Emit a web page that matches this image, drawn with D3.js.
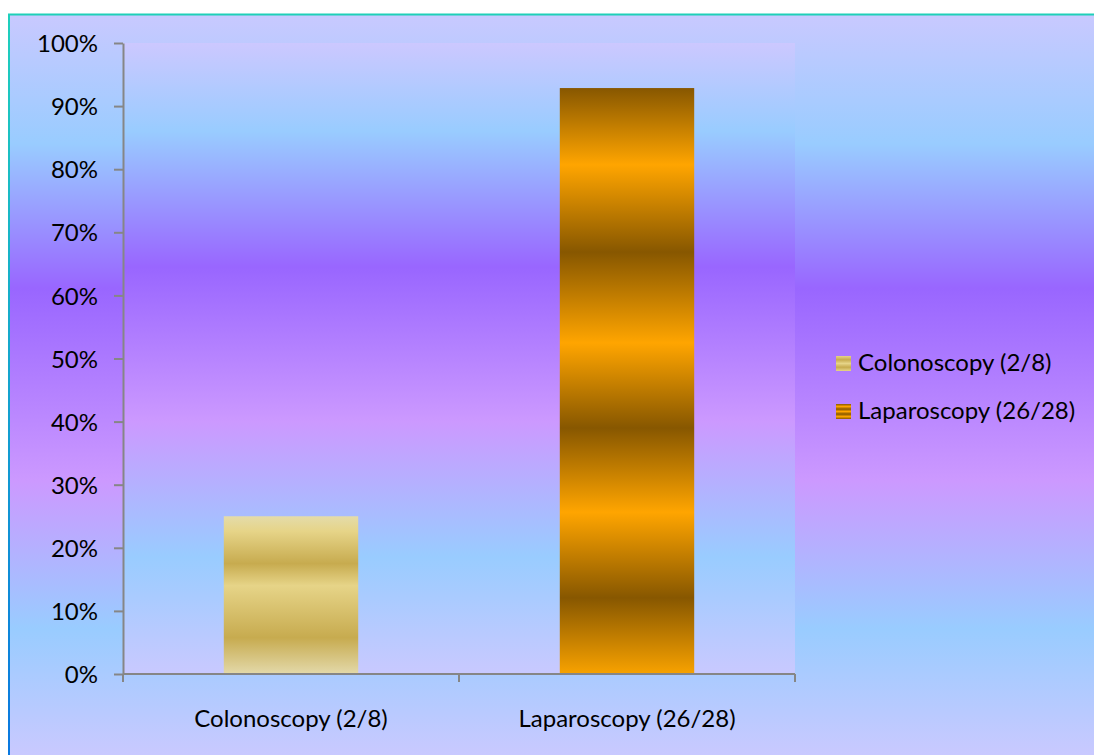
<!DOCTYPE html>
<html>
<head>
<meta charset="utf-8">
<script src="https://cdn.jsdelivr.net/npm/d3@7"></script>
<style>
  body { margin: 0; background: #ffffff; }
  svg { display: block; }
  .axis text { font-family: Lato, "Open Sans", sans-serif; font-size: 24px; fill: #000; }
  .legend text { font-family: Lato, "Open Sans", sans-serif; font-size: 24px; fill: #000; }
</style>
</head>
<body>
<div id="chart"></div>
<script>
// data
var categories = ["Colonoscopy (2/8)", "Laparoscopy (26/28)"];
var values = [0.25, 0.9286];
var yTickValues = [0, 0.1, 0.2, 0.3, 0.4, 0.5, 0.6, 0.7, 0.8, 0.9, 1.0];

var width = 1094, height = 755;
var margin = { top: 43, right: 299, bottom: 81, left: 123 };
var plotW = width - margin.left - margin.right;
var plotH = height - margin.top - margin.bottom;

var svg = d3.select("#chart").append("svg")
  .attr("width", width)
  .attr("height", height);

var defs = svg.append("defs");

function addGradient(id, stops, units) {
  var g = defs.append("linearGradient")
    .attr("id", id)
    .attr("x1", 0).attr("y1", 0).attr("x2", 0).attr("y2", 1);
  if (units) g.attr("gradientUnits", units);
  stops.forEach(function(s) {
    g.append("stop").attr("offset", s[0]).attr("stop-color", s[1]);
  });
  return g;
}

// background bands
addGradient("bgOuter", [
  [0, "#c9c9ff"], [0.175, "#99ccff"], [0.37, "#9966ff"],
  [0.63, "#cc99ff"], [0.83, "#99ccff"], [1, "#c9c9ff"]
]);
addGradient("bgPlot", [
  [0, "#ccc8ff"], [0.14, "#99ccff"], [0.355, "#9966ff"],
  [0.6, "#cc99ff"], [0.815, "#99ccff"], [1, "#c9c9ff"]
]);
addGradient("frameLeft", [[0, "#1fd0bd"], [1, "#0a78e0"]]);

// bar fills
var barFills = [
  [[0, "#e4dcaa"], [0.095, "#e6d488"], [0.3, "#c7ab4f"], [0.44, "#e6d488"],
   [0.77, "#c7ab4f"], [1, "#e3d9aa"]],
  [[0, "#875700"], [0.131, "#ffa500"], [0.28, "#875700"], [0.435, "#ffa500"],
   [0.58, "#875700"], [0.724, "#ffa500"], [0.87, "#875700"], [1, "#f8a200"]]
];
barFills.forEach(function(st, i) { addGradient("bar" + i, st); });

// legend swatches, stripes
var swatchFills = [
  [[0, "#e6d488"], [0.25, "#c7ab4f"], [0.5, "#e6d488"], [0.75, "#c7ab4f"], [1, "#e6d488"]],
  [[0, "#875700"], [0.17, "#ffa500"], [0.34, "#875700"], [0.5, "#ffa500"],
   [0.67, "#875700"], [0.84, "#ffa500"], [1, "#875700"]]
];
swatchFills.forEach(function(st, i) { addGradient("sw" + i, st); });

// chart area background + frame
svg.append("rect")
  .attr("x", 9).attr("y", 14)
  .attr("width", width - 9).attr("height", height - 14)
  .attr("fill", "url(#bgOuter)");
svg.append("line")
  .attr("x1", 8).attr("x2", width).attr("y1", 14.5).attr("y2", 14.5)
  .attr("stroke", "#1fd0b8").attr("stroke-width", 2);
svg.append("rect")
  .attr("x", 8).attr("y", 14)
  .attr("width", 2).attr("height", height - 14)
  .attr("fill", "url(#frameLeft)");

var g = svg.append("g")
  .attr("transform", "translate(" + margin.left + "," + margin.top + ")");

g.append("rect")
  .attr("width", plotW).attr("height", plotH)
  .attr("fill", "url(#bgPlot)");

var x = d3.scaleBand()
  .domain(categories)
  .range([0, plotW])
  .paddingInner(0.6)
  .paddingOuter(0.3);

var y = d3.scaleLinear()
  .domain([0, 1])
  .range([plotH, 0]);

g.selectAll("rect.bar")
  .data(values)
  .enter()
  .append("rect")
  .attr("class", "bar")
  .attr("x", function(d, i) { return x(categories[i]); })
  .attr("width", x.bandwidth())
  .attr("y", function(d) { return y(d); })
  .attr("height", function(d) { return plotH - y(d); })
  .attr("fill", function(d, i) { return "url(#bar" + i + ")"; });

var yAxis = d3.axisLeft(y)
  .tickValues(yTickValues)
  .tickFormat(d3.format(".0%"))
  .tickSize(9)
  .tickPadding(16)
  .tickSizeOuter(0);

var yG = g.append("g").attr("class", "axis").call(yAxis);
yG.select(".domain").attr("stroke", "#868686").attr("stroke-width", 2);
yG.selectAll(".tick line").attr("stroke", "#868686").attr("stroke-width", 2);
yG.selectAll(".tick text").attr("dy", "0.36em");

// x axis: ticks sit on category boundaries
var xG = g.append("g").attr("class", "axis")
  .attr("transform", "translate(0," + plotH + ")");
xG.append("line")
  .attr("x1", 0).attr("x2", plotW)
  .attr("stroke", "#868686").attr("stroke-width", 2);
var bounds = [0].concat(categories.map(function(c) { return x(c) - x.step() * x.paddingOuter() + x.step(); }));
xG.selectAll("line.tk")
  .data(bounds)
  .enter()
  .append("line")
  .attr("class", "tk")
  .attr("x1", function(d) { return d; }).attr("x2", function(d) { return d; })
  .attr("y1", 0).attr("y2", 8)
  .attr("stroke", "#868686").attr("stroke-width", 2);
xG.selectAll("text")
  .data(categories)
  .enter()
  .append("text")
  .attr("x", function(d) { return x(d) + x.bandwidth() / 2; })
  .attr("y", 53)
  .attr("text-anchor", "middle")
  .text(function(d) { return d; });

// legend
var legend = svg.append("g").attr("class", "legend")
  .attr("transform", "translate(836,356)");
var item = legend.selectAll("g")
  .data(categories)
  .enter()
  .append("g")
  .attr("transform", function(d, i) { return "translate(0," + (i * 48) + ")"; });
item.append("rect")
  .attr("width", 15).attr("height", 15)
  .attr("fill", function(d, i) { return "url(#sw" + i + ")"; });
item.append("text")
  .attr("x", 22)
  .attr("y", 15)
  .text(function(d) { return d; });
</script>
</body>
</html>
